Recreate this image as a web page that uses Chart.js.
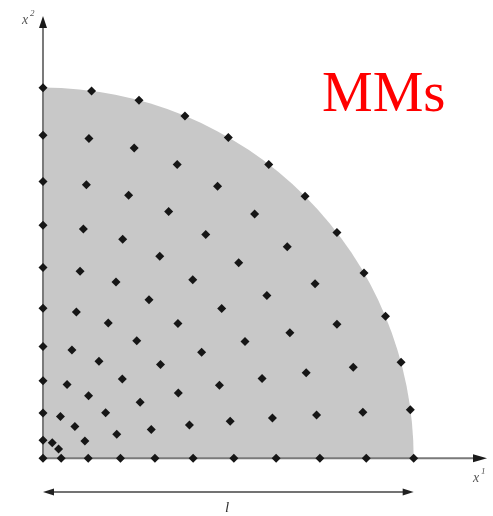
<!DOCTYPE html>
<html>
<head>
<meta charset="utf-8">
<script src="https://cdn.jsdelivr.net/npm/chart.js@4"></script>
<style>html,body{margin:0;padding:0;background:#fff;}canvas{display:block;}</style>
</head>
<body>
<canvas id="c" width="493" height="516"></canvas>
<script>
// Node coordinates (outer radius = l = 1)
const nodeX = [
  0,
  0.049, 0.042, 0.025, 0,
  0.122, 0.113, 0.086, 0.047, 0,
  0.209, 0.199, 0.169, 0.123, 0.065, 0,
  0.302, 0.292, 0.262, 0.214, 0.151, 0.078, 0,
  0.405, 0.395, 0.365, 0.317, 0.253, 0.176, 0.090, 0,
  0.515, 0.505, 0.476, 0.428, 0.364, 0.286, 0.197, 0.100, 0,
  0.629, 0.619, 0.591, 0.545, 0.482, 0.404, 0.315, 0.215, 0.109, 0,
  0.747, 0.738, 0.710, 0.666, 0.604, 0.528, 0.439, 0.339, 0.231, 0.117, 0,
  0.872, 0.863, 0.837, 0.793, 0.734, 0.659, 0.571, 0.471, 0.362, 0.246, 0.124, 0,
  1.000, 0.991, 0.966, 0.924, 0.866, 0.793, 0.707, 0.609, 0.500, 0.383, 0.259, 0.131, 0
];
const nodeY = [
  0,
  0, 0.025, 0.042, 0.049,
  0, 0.047, 0.086, 0.113, 0.122,
  0, 0.065, 0.123, 0.169, 0.199, 0.209,
  0, 0.078, 0.151, 0.214, 0.262, 0.292, 0.302,
  0, 0.090, 0.176, 0.253, 0.317, 0.365, 0.395, 0.405,
  0, 0.100, 0.197, 0.286, 0.364, 0.428, 0.476, 0.505, 0.515,
  0, 0.109, 0.215, 0.315, 0.404, 0.482, 0.545, 0.591, 0.619, 0.629,
  0, 0.117, 0.231, 0.339, 0.439, 0.528, 0.604, 0.666, 0.710, 0.738, 0.747,
  0, 0.124, 0.246, 0.362, 0.471, 0.571, 0.659, 0.734, 0.793, 0.837, 0.863, 0.872,
  0, 0.131, 0.259, 0.383, 0.500, 0.609, 0.707, 0.793, 0.866, 0.924, 0.966, 0.991, 1.000
];
const domainRadius = [1];
const axisLabels = ['x', '2', 'x', '1', 'l'];
const titleText = 'MMs';

const points = nodeX.map((x, i) => ({x: x, y: nodeY[i]}));

const decor = {
  id: 'decor',
  beforeDatasetsDraw(chart) {
    const ctx = chart.ctx, xs = chart.scales.x, ys = chart.scales.y;
    const x0 = xs.getPixelForValue(0), y0 = ys.getPixelForValue(0);
    const r = xs.getPixelForValue(domainRadius[0]) - x0;
    ctx.save();
    // quarter disc
    ctx.fillStyle = '#c8c8c8';
    ctx.beginPath();
    ctx.moveTo(x0, y0);
    ctx.arc(x0, y0, r, -Math.PI / 2, 0);
    ctx.closePath();
    ctx.fill();
    // axes
    ctx.strokeStyle = '#7a7a7a';
    ctx.lineWidth = 2;
    ctx.beginPath();
    ctx.moveTo(x0, y0); ctx.lineTo(x0, 26);
    ctx.moveTo(x0, y0); ctx.lineTo(474, y0);
    ctx.stroke();
    ctx.fillStyle = '#1a1a1a';
    ctx.beginPath();
    ctx.moveTo(x0, 16); ctx.lineTo(x0 - 4, 28); ctx.lineTo(x0 + 4, 28); ctx.closePath();
    ctx.fill();
    ctx.beginPath();
    ctx.moveTo(487, y0); ctx.lineTo(473, y0 - 4); ctx.lineTo(473, y0 + 4); ctx.closePath();
    ctx.fill();
    // dimension arrow
    const yd = 492, xe = x0 + r;
    ctx.strokeStyle = '#444';
    ctx.lineWidth = 1.3;
    ctx.beginPath();
    ctx.moveTo(x0 + 8, yd); ctx.lineTo(xe - 8, yd);
    ctx.stroke();
    ctx.fillStyle = '#222';
    ctx.beginPath();
    ctx.moveTo(x0, yd); ctx.lineTo(x0 + 11, yd - 3.5); ctx.lineTo(x0 + 11, yd + 3.5); ctx.closePath();
    ctx.fill();
    ctx.beginPath();
    ctx.moveTo(xe, yd); ctx.lineTo(xe - 11, yd - 3.5); ctx.lineTo(xe - 11, yd + 3.5); ctx.closePath();
    ctx.fill();
    ctx.restore();
  },
  afterDraw(chart) {
    const ctx = chart.ctx;
    ctx.save();
    ctx.fillStyle = '#555';
    ctx.textBaseline = 'alphabetic';
    ctx.font = 'italic 14px "Liberation Serif", serif';
    ctx.fillText(axisLabels[0], 22, 24);
    ctx.font = 'italic 9px "Liberation Serif", serif';
    ctx.fillText(axisLabels[1], 30, 16);
    ctx.font = 'italic 14px "Liberation Serif", serif';
    ctx.fillText(axisLabels[2], 473, 482);
    ctx.font = 'italic 9px "Liberation Serif", serif';
    ctx.fillText(axisLabels[3], 481, 474);
    ctx.fillStyle = '#333';
    ctx.font = 'italic 15px "Liberation Serif", serif';
    ctx.fillText(axisLabels[4], 225, 512);
    ctx.fillStyle = '#ff0000';
    ctx.font = '57px "Liberation Serif", "Times New Roman", serif';
    ctx.fillText(titleText, 322, 111);
    ctx.restore();
  }
};

new Chart(document.getElementById('c'), {
  type: 'scatter',
  data: {
    datasets: [{
      data: points,
      pointStyle: 'rectRot',
      pointRadius: 4.5,
      pointHoverRadius: 4.5,
      backgroundColor: '#161616',
      borderColor: '#161616',
      borderWidth: 0,
      clip: false
    }]
  },
  options: {
    responsive: false,
    animation: false,
    layout: {padding: 0, autoPadding: false},
    plugins: {legend: {display: false}, tooltip: {enabled: false}},
    scales: {
      x: {type: 'linear', display: false, min: -0.116, max: 1.214},
      y: {type: 'linear', display: false, min: -0.1557, max: 1.2367}
    }
  },
  plugins: [decor]
});
</script>
</body>
</html>
